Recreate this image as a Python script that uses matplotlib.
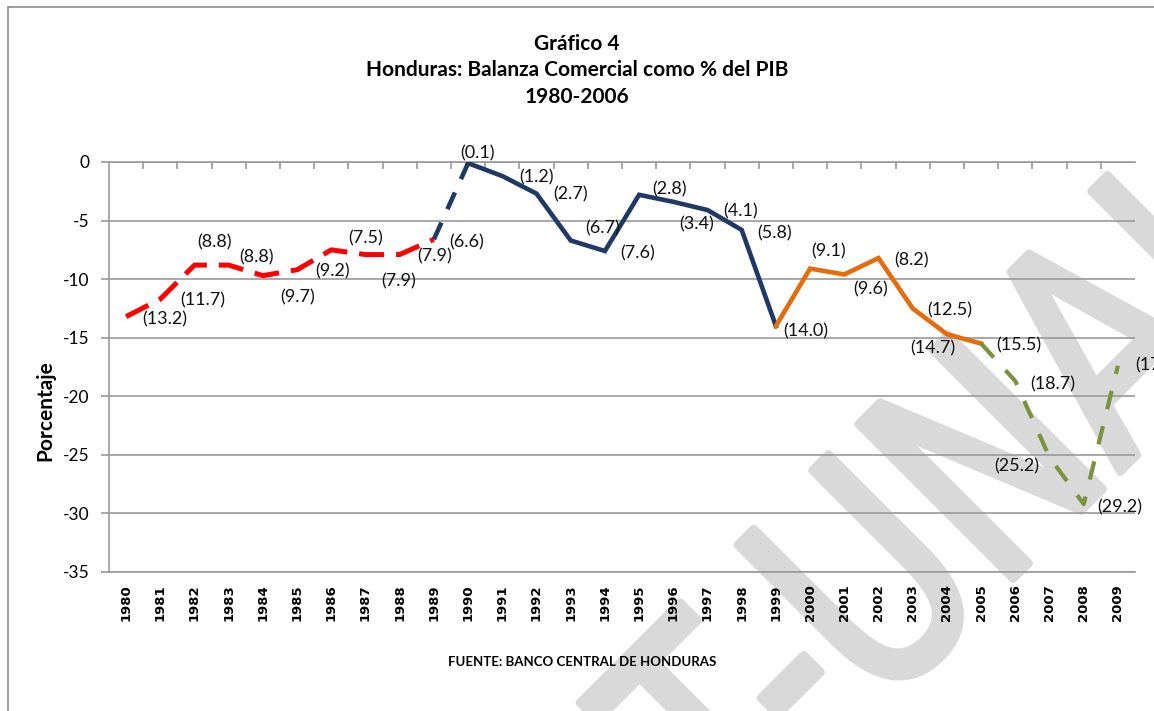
import matplotlib
matplotlib.use("Agg")
import matplotlib.pyplot as plt
from matplotlib.patches import Rectangle, PathPatch
from matplotlib.textpath import TextPath
from matplotlib.font_manager import FontProperties
from matplotlib.transforms import Affine2D

years = list(range(1980, 2010))
values = [-13.2, -11.7, -8.8, -8.8, -9.7, -9.2, -7.5, -7.9, -7.9, -6.6,
          -0.1, -1.2, -2.7, -6.7, -7.6, -2.8, -3.4, -4.1, -5.8, -14.0,
          -9.1, -9.6, -8.2, -12.5, -14.7, -15.5, -18.7, -25.2, -29.2, -17.4]
labels = ["(%.1f)" % abs(v) for v in values]

# label offsets in pixels (dx, dy) relative to the point, dy up positive
offsets = [(39, -3), (42, -1), (20, 23), (28, 8), (35, -22), (35, -2), (34, 11),
           (33, -27), (35, -2), (33, -3), (9, 10), (34, -1), (34, -1), (32, 12),
           (33, -2), (30, 5), (23, -23), (33, -1), (33, -3), (30, -5),
           (18, 17), (26, -15), (33, -2), (37, -2), (-14, -14), (38, -2),
           (37, -3), (-33, -9), (36, -3), (40, 0)]

plt.rcParams['font.family'] = ['Lato', 'DejaVu Sans']
plt.rcParams['axes.unicode_minus'] = False

fig = plt.figure(figsize=(11.54, 7.11), dpi=100)
ax = fig.add_axes([109 / 1154, 1 - 572 / 711, (1135 - 109) / 1154, (572 - 162) / 711])
ax.patch.set_facecolor("none")

grid_c = "#9a9a9a"
# segments: (start index, end index, color, style, width)
segs = [(0, 9, "#ff0000", (0, (5, 2.4)), 3.6),
        (9, 10, "#1f3864", (0, (4, 3.2)), 3.3),
        (10, 19, "#1f3864", "-", 3.3),
        (19, 25, "#e46c0a", "-", 3.3),
        (25, 29, "#77933c", (0, (4.5, 4.2)), 3.0)]
for s, e, c, ls, lw in segs:
    ax.plot(years[s:e + 1], values[s:e + 1], color=c, linestyle=ls, lw=lw,
            solid_joinstyle="miter", zorder=3)

for x, v, t, (dx, dy) in zip(years, values, labels, offsets):
    ax.annotate(t, (x, v), xytext=(dx, dy), textcoords="offset pixels",
                ha="center", va="center", fontsize=13, color="#111111",
                annotation_clip=False, zorder=4)

ax.set_xlim(1979.5, 2009.5)
ax.set_ylim(-35, 0)
ax.set_yticks(range(-35, 1, 5))
ax.yaxis.grid(True, color=grid_c, lw=1.2)
ax.set_axisbelow(True)
ax.spines["right"].set_visible(False)
for side in ["left", "top", "bottom"]:
    ax.spines[side].set_color(grid_c)
    ax.spines[side].set_linewidth(1.2)

ax.set_xticks(years)
ax.set_xticklabels([str(y) for y in years], rotation=90, fontweight="bold",
                   fontsize=9.5, family="DejaVu Sans")
ax.tick_params(axis="x", length=0, pad=9)
ax.set_xticks([y + 0.5 for y in years[:-1]], minor=True)
ax.tick_params(axis="x", which="minor", top=True, bottom=False, direction="in",
               length=5, color=grid_c, width=1.2)
ax.tick_params(axis="y", length=6, color=grid_c, width=1.2, labelsize=12.5, pad=8)

fig.text(45 / 1154, 1 - 411 / 711, "Porcentaje", rotation=90, ha="center",
         va="center", fontsize=15, fontweight="bold")

fig.text(577 / 1154, 1 - 34 / 711,
         "Gráfico 4\nHonduras: Balanza Comercial como % del PIB\n1980-2006",
         ha="center", va="top", fontsize=15, fontweight="bold", linespacing=1.4)
fig.text(582 / 1154, 1 - 662 / 711, "FUENTE: BANCO CENTRAL DE HONDURAS",
         ha="center", va="center", fontsize=9.5, fontweight="bold")

# outer frame
fig.patches.append(Rectangle((8 / 1154, -0.05), 1.1, 1 - 7 / 711 + 0.05,
                             transform=fig.transFigure, fill=False,
                             edgecolor="#8c8c8c", lw=1.2))

# watermark (tall rounded letters, drawn behind the plot contents)
wm = TextPath((0, 0), "T-UNAH", size=1, prop=FontProperties(family="DejaVu Sans"))
wm_tr = Affine2D().scale(230, 300).rotate_deg(45).translate(735, 711 - 857)
fig.patches.append(PathPatch(wm, transform=wm_tr, facecolor="#d9d9d9",
                             edgecolor="#d9d9d9", lw=6, joinstyle="round",
                             capstyle="round", zorder=-1))

fig.savefig("out.png", dpi=100)
